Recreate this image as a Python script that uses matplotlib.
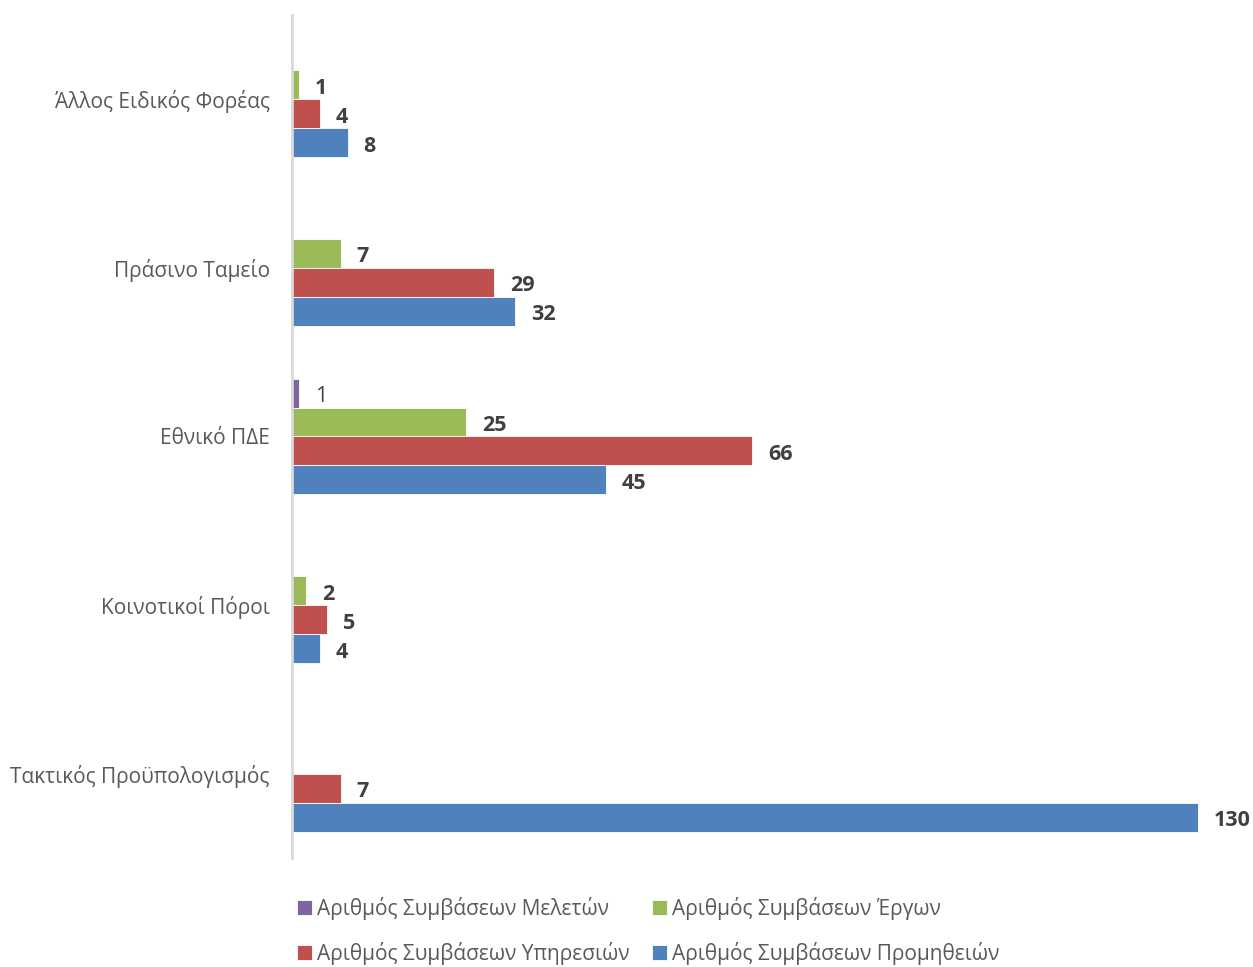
import matplotlib.pyplot as plt
import numpy as np

plt.rcParams['font.family'] = ['Open Sans', 'DejaVu Sans']

# categories, bottom to top
categories = ['Τακτικός Προϋπολογισμός', 'Κοινοτικοί Πόροι', 'Εθνικό ΠΔΕ',
              'Πράσινο Ταμείο', 'Άλλος Ειδικός Φορέας']

meletes    = [0, 0, 1, 0, 0]     # Μελετών
erga       = [0, 2, 25, 7, 1]    # Έργων
ypiresies  = [7, 5, 66, 29, 4]   # Υπηρεσιών
promitheies = [130, 4, 45, 32, 8]  # Προμηθειών

series_names = ['Αριθμός Συμβάσεων Μελετών', 'Αριθμός Συμβάσεων Έργων',
                'Αριθμός Συμβάσεων Υπηρεσιών', 'Αριθμός Συμβάσεων Προμηθειών']
colors = ['#8064A2', '#9BBB59', '#C0504D', '#4F81BD']

fig = plt.figure(figsize=(12.53, 9.67), dpi=100)
ax = fig.add_axes([292/1253, 1 - 858/967, (1233 - 292)/1253, (858 - 15)/967])

y = np.arange(len(categories))
h = 0.172
offsets = [1.5*h, 0.5*h, -0.5*h, -1.5*h]
all_vals = [meletes, erga, ypiresies, promitheies]

handles = []
for k, (vals, name, c, off) in enumerate(zip(all_vals, series_names, colors, offsets)):
    vals = np.array(vals)
    mask = vals > 0
    bars = ax.barh(y[mask] + off, vals[mask], height=h, color=c,
                   edgecolor='white', linewidth=0.6, label=name)
    handles.append(bars)
    for yy, v in zip(y[mask] + off, vals[mask]):
        ax.annotate(str(v), (v, yy), xytext=(11.5, -2.5), textcoords='offset points',
                    ha='left', va='center', fontsize=15.5, color='#404040',
                    fontweight='normal' if k == 0 else 'bold')

ax.set_xlim(0, 135)
ax.set_ylim(-0.5, len(categories) - 0.5)
ax.set_yticks(y)
ax.set_yticklabels(categories, fontsize=15, color='#595959')
ax.tick_params(axis='y', length=0, pad=16)
ax.set_xticks([])
for s in ['top', 'right', 'bottom']:
    ax.spines[s].set_visible(False)
ax.spines['left'].set_color('#D9D9D9')
ax.spines['left'].set_linewidth(2)

# row-wise order: Μελετών, Έργων / Υπηρεσιών, Προμηθειών
order = [0, 2, 1, 3]
fig.legend([handles[i] for i in order], [series_names[i] for i in order],
           loc='upper left', bbox_to_anchor=(297/1253, 1 - 897/967), ncol=2,
           frameon=False, fontsize=15, labelcolor='#595959',
           borderpad=0, borderaxespad=0,
           handlelength=0.72, handleheight=0.72, handletextpad=0.25,
           columnspacing=1.05, labelspacing=1.05)

fig.savefig('out.png', dpi=100)
